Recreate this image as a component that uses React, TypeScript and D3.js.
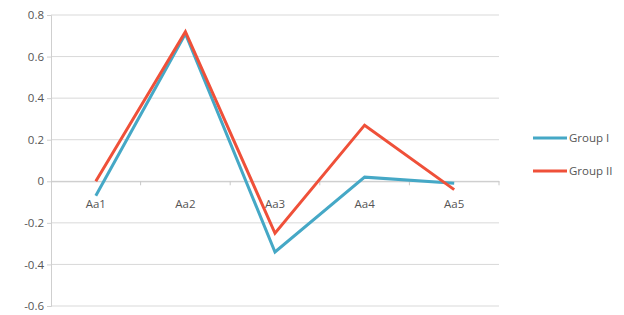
import React, { useRef, useEffect } from 'react';
import * as d3 from 'd3';

const categories = ['Aa1', 'Aa2', 'Aa3', 'Aa4', 'Aa5'];
const groupI = [-0.07, 0.71, -0.34, 0.02, -0.01];
const groupII = [0.0, 0.72, -0.25, 0.27, -0.04];
const yTicks = [-0.6, -0.4, -0.2, 0, 0.2, 0.4, 0.6, 0.8];
const seriesNames = ['Group I', 'Group II'];
const seriesColors = ['#45a8c6', '#ef5039'];

const App = () => {
  const svgRef = useRef<SVGSVGElement>(null);
  useEffect(() => {
    const W = 624, H = 315;
    const margin = { top: 15, right: 125, bottom: 9, left: 51 };
    const width = W - margin.left - margin.right;
    const height = H - margin.top - margin.bottom;
    const root = d3.select(svgRef.current).attr('width', W).attr('height', H);
    root.selectAll('*').remove();
    const svg = root.append('g').attr('transform', `translate(${margin.left},${margin.top})`);

    const x = d3.scaleBand().domain(categories).range([0, width]);
    const y = d3.scaleLinear().domain([-0.6, 0.8]).range([height, 0]);
    const font = "'Open Sans', sans-serif";

    // gridlines
    svg.append('g')
      .selectAll('line')
      .data(yTicks)
      .join('line')
      .attr('x1', 0).attr('x2', width)
      .attr('y1', d => y(d)).attr('y2', d => y(d))
      .attr('stroke', '#d9d9d9').attr('stroke-width', 1);

    // y axis (plain hyphen for negatives, like the original)
    const yAxis = svg.append('g')
      .call(d3.axisLeft(y).tickValues(yTicks).tickSize(4).tickFormat(d => String(+d)));
    yAxis.select('.domain').attr('stroke', '#cfcfcf');
    yAxis.selectAll('.tick line').attr('stroke', '#cfcfcf');
    yAxis.selectAll('.tick text')
      .attr('x', -7)
      .attr('fill', '#555').style('font-family', font).style('font-size', '11.5px');

    // x axis on zero line
    const xAxis = svg.append('g')
      .attr('transform', `translate(0,${y(0)})`)
      .call(d3.axisBottom(x).tickSize(0).tickPadding(19));
    xAxis.select('.domain').attr('stroke', '#c8c8c8');
    xAxis.selectAll('.tick text')
      .attr('fill', '#555').style('font-family', font).style('font-size', '11.5px');
    svg.append('g')
      .selectAll('line')
      .data(categories.slice(1).concat(['end']))
      .join('line')
      .attr('x1', (d, i) => x.step() * (i + 1)).attr('x2', (d, i) => x.step() * (i + 1))
      .attr('y1', y(0)).attr('y2', y(0) + 4)
      .attr('stroke', '#c8c8c8');

    const line = d3.line<number>()
      .x((d, i) => (x(categories[i]) as number) + x.bandwidth() / 2)
      .y(d => y(d));

    [groupI, groupII].forEach((vals, k) => {
      svg.append('path')
        .datum(vals)
        .attr('d', line)
        .attr('fill', 'none')
        .attr('stroke', seriesColors[k])
        .attr('stroke-width', 3)
        .attr('stroke-linejoin', 'miter');
    });

    // legend
    const legend = root.append('g').attr('transform', 'translate(533,138)');
    seriesNames.forEach((name, i) => {
      const g = legend.append('g').attr('transform', `translate(0,${i * 33})`);
      g.append('line').attr('x1', 0).attr('x2', 34).attr('y1', 0).attr('y2', 0)
        .attr('stroke', seriesColors[i]).attr('stroke-width', 3);
      g.append('text').attr('x', 36).attr('y', 4)
        .text(name)
        .attr('fill', '#555').style('font-family', font).style('font-size', '11.5px');
    });
  }, []);
  return <svg ref={svgRef} style={{ position: 'absolute', left: 0, top: 0 }}></svg>;
};

export default App;
